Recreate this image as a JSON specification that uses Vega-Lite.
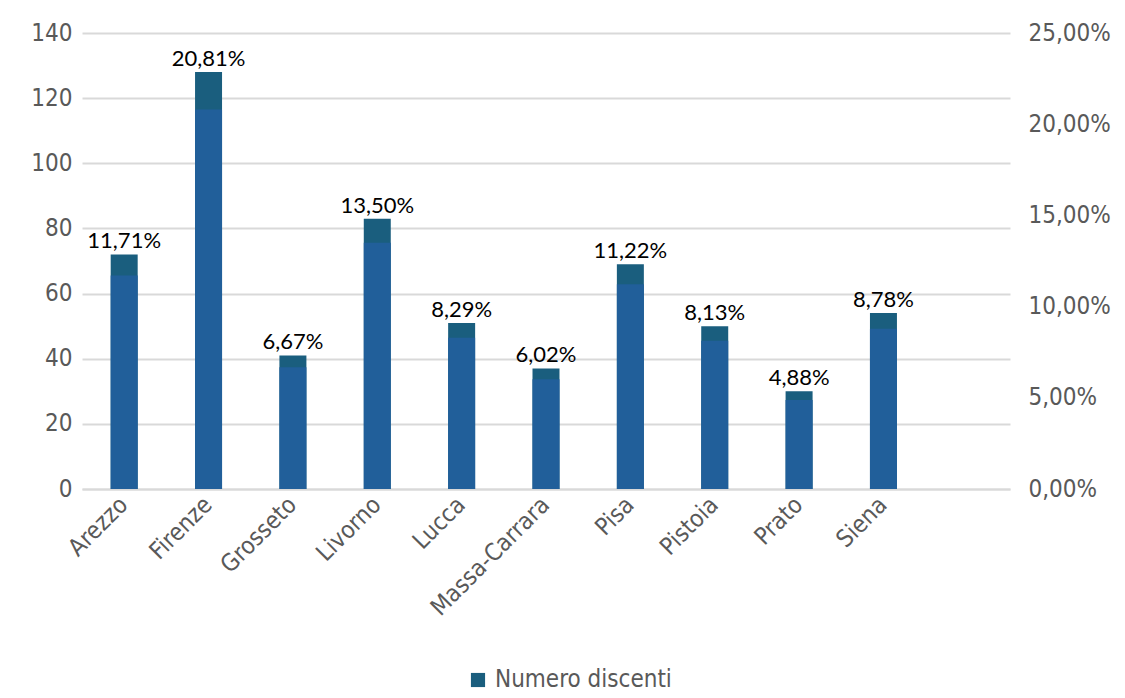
{
  "$schema": "https://vega.github.io/schema/vega-lite/v6.json",
  "width": 928,
  "height": 456,
  "autosize": {"type": "none"},
  "padding": {"left": 82, "top": 33, "right": 115, "bottom": 209},
  "background": "white",
  "config": {
    "locale": {"number": {"decimal": ",", "thousands": ".", "grouping": [3], "currency": ["€", ""]}},
    "view": {"stroke": null},
    "axis": {"labelFont": "DejaVu Sans Condensed", "labelFontSize": 24, "labelColor": "#595959", "ticks": false, "domain": false, "gridColor": "#d9d9d9", "gridWidth": 2, "title": null}
  },
  "data": {
    "values": [
      {"provincia": "Arezzo", "discenti": 72, "percentuale": 0.1171},
      {"provincia": "Firenze", "discenti": 128, "percentuale": 0.2081},
      {"provincia": "Grosseto", "discenti": 41, "percentuale": 0.0667},
      {"provincia": "Livorno", "discenti": 83, "percentuale": 0.1350},
      {"provincia": "Lucca", "discenti": 51, "percentuale": 0.0829},
      {"provincia": "Massa-Carrara", "discenti": 37, "percentuale": 0.0602},
      {"provincia": "Pisa", "discenti": 69, "percentuale": 0.1122},
      {"provincia": "Pistoia", "discenti": 50, "percentuale": 0.0813},
      {"provincia": "Prato", "discenti": 30, "percentuale": 0.0488},
      {"provincia": "Siena", "discenti": 54, "percentuale": 0.0878}
    ]
  },
  "encoding": {
    "x": {
      "field": "provincia",
      "type": "nominal",
      "sort": null,
      "scale": {"domain": ["Arezzo", "Firenze", "Grosseto", "Livorno", "Lucca", "Massa-Carrara", "Pisa", "Pistoia", "Prato", "Siena", " "], "paddingInner": 0, "paddingOuter": 0},
      "axis": {"labelAngle": -45, "labelAlign": "right", "labelBaseline": "middle", "domain": true, "domainColor": "#d9d9d9", "domainWidth": 2, "labelPadding": 12, "labelLimit": 300}
    }
  },
  "layer": [
    {
      "layer": [
        {
          "mark": {"type": "bar", "width": {"band": 0.32}},
          "encoding": {
            "y": {"field": "discenti", "type": "quantitative", "scale": {"domain": [0, 140]}, "axis": {"values": [0, 20, 40, 60, 80, 100, 120, 140], "grid": true, "orient": "left", "labelPadding": 10}},
            "color": {"datum": "Numero discenti", "type": "nominal", "scale": {"range": ["#1a5e7e"]}, "legend": {"title": null, "orient": "none", "legendX": 384, "legendY": 635, "symbolType": "square", "symbolSize": 200, "symbolStrokeWidth": 0, "labelFont": "DejaVu Sans Condensed", "labelFontSize": 24, "labelColor": "#595959", "labelLimit": 400, "padding": 0, "labelOffset": 5}}
          }
        },
        {
          "mark": {"type": "text", "font": "Lato", "fontSize": 22, "color": "black", "baseline": "alphabetic", "dy": -6},
          "encoding": {
            "y": {"field": "discenti", "type": "quantitative", "scale": {"domain": [0, 140]}},
            "text": {"field": "percentuale", "type": "quantitative", "format": ".2%"}
          }
        }
      ]
    },
    {
      "mark": {"type": "bar", "width": {"band": 0.32}, "color": "#215f9a"},
      "encoding": {
        "y": {"field": "percentuale", "type": "quantitative", "scale": {"domain": [0, 0.25]}, "axis": {"orient": "right", "grid": false, "values": [0, 0.05, 0.1, 0.15, 0.2, 0.25], "format": ".2%", "labelPadding": 18}}
      }
    }
  ],
  "resolve": {"scale": {"y": "independent"}}
}
